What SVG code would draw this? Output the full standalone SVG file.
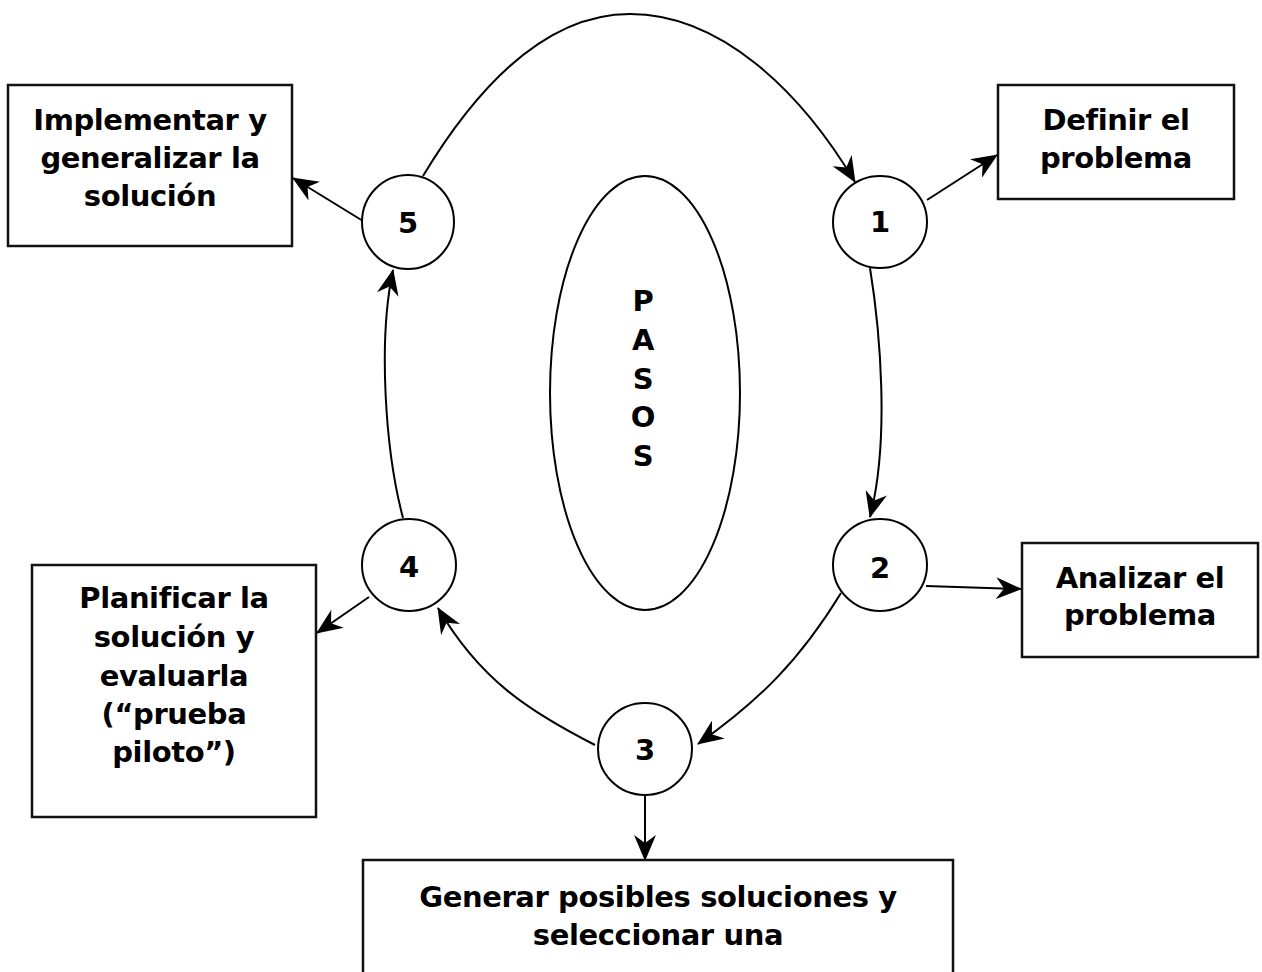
<svg xmlns="http://www.w3.org/2000/svg" width="1262" height="972" viewBox="0 0 1262 972">
<style>
.box{fill:#fff;stroke:#111;stroke-width:2.5}
.circ{fill:#fff;stroke:#000;stroke-width:2}
.t{font-family:"DejaVu Sans",Verdana,sans-serif;font-weight:bold;font-size:29px;letter-spacing:-0.4px;fill:#000;text-anchor:middle}
.c{fill:none;stroke:#000;stroke-width:2}
</style>
<defs>
<marker id="ah" viewBox="0 0 26 22" refX="25" refY="11" markerWidth="26" markerHeight="22" markerUnits="userSpaceOnUse" orient="auto">
<path d="M0,0 L26,11 L0,22 L8,11 Z" fill="#000"/>
</marker>
</defs>
<rect width="1262" height="972" fill="#fff"/>

<g id="pasos">
<ellipse cx="645" cy="393" rx="95" ry="217" class="circ"/>
<text class="t" x="643" y="311">P</text>
<text class="t" x="643" y="350">A</text>
<text class="t" x="643" y="389">S</text>
<text class="t" x="643" y="427">O</text>
<text class="t" x="643" y="466">S</text>
</g>

<g id="connectors">
<path class="c" d="M423,176 C458,118 530,14 630,14 C720,14 800,90 855,182" marker-end="url(#ah)"/>
<path class="c" d="M870,268 C880,330 890,440 870,517" marker-end="url(#ah)"/>
<path class="c" d="M841,593 C800,660 760,700 698,744" marker-end="url(#ah)"/>
<path class="c" d="M595,745 C530,712 480,680 438,608" marker-end="url(#ah)"/>
<path class="c" d="M403,518 C385,450 378,340 393,270" marker-end="url(#ah)"/>
<path class="c" d="M927,200 L997,155" marker-end="url(#ah)"/>
<path class="c" d="M926,586 L1021,589" marker-end="url(#ah)"/>
<path class="c" d="M645,795 L645,860" marker-end="url(#ah)"/>
<path class="c" d="M369,597 L317,633" marker-end="url(#ah)"/>
<path class="c" d="M363,221 L293,178" marker-end="url(#ah)"/>
</g>

<g id="n5">
<ellipse cx="408" cy="222" rx="46" ry="47" class="circ"/>
<text class="t" x="408" y="233">5</text>
</g>
<g id="n1">
<ellipse cx="880" cy="222" rx="47" ry="46" class="circ"/>
<text class="t" x="880" y="232">1</text>
</g>
<g id="n2">
<ellipse cx="880" cy="565" rx="47" ry="46" class="circ"/>
<text class="t" x="880" y="578">2</text>
</g>
<g id="n3">
<ellipse cx="645" cy="749" rx="47" ry="46" class="circ"/>
<text class="t" x="645" y="760">3</text>
</g>
<g id="n4">
<ellipse cx="409" cy="565" rx="47" ry="46" class="circ"/>
<text class="t" x="409" y="577">4</text>
</g>

<g id="box5">
<rect x="8" y="85" width="284" height="161" class="box"/>
<text class="t" x="150" y="130">Implementar y</text>
<text class="t" x="150" y="168">generalizar la</text>
<text class="t" x="150" y="206">solución</text>
</g>
<g id="box1">
<rect x="998" y="85" width="236" height="114" class="box"/>
<text class="t" x="1116" y="130">Definir el</text>
<text class="t" x="1116" y="168">problema</text>
</g>
<g id="box2">
<rect x="1022" y="543" width="236" height="114" class="box"/>
<text class="t" x="1140" y="588">Analizar el</text>
<text class="t" x="1140" y="625">problema</text>
</g>
<g id="box4">
<rect x="32" y="565" width="284" height="252" class="box"/>
<text class="t" x="174" y="608">Planificar la</text>
<text class="t" x="174" y="647">solución y</text>
<text class="t" x="174" y="686">evaluarla</text>
<text class="t" x="174" y="724">(“prueba</text>
<text class="t" x="174" y="762">piloto”)</text>
</g>
<g id="box3">
<rect x="363" y="860" width="590" height="140" class="box"/>
<text class="t" x="658" y="907">Generar posibles soluciones y</text>
<text class="t" x="658" y="945">seleccionar una</text>
</g>
</svg>
